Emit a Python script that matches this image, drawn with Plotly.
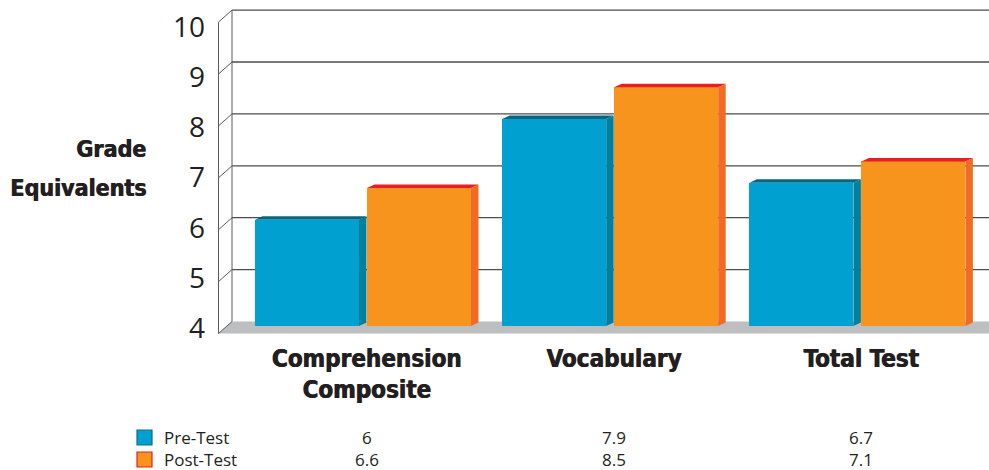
import plotly.graph_objects as go

# ---- data -------------------------------------------------------------
categories = ["Comprehension<br>Composite", "Vocabulary", "Total Test"]
pre_test = [6.0, 7.9, 6.7]
post_test = [6.6, 8.5, 7.1]
value_ticks = [4, 5, 6, 7, 8, 9, 10]
series_names = ["Pre-Test", "Post-Test"]
title_lines = ["Grade", "Equivalents"]

# ---- styling ----------------------------------------------------------
PRE_FRONT, PRE_SIDE, PRE_TOP, PRE_EDGE = "#00A0D1", "#00809F", "#006882", "#0B6F8B"
POST_FRONT, POST_SIDE, POST_TOP, POST_EDGE = "#F7941E", "#F26B24", "#EC1C24", "#EC1C24"
FLOOR = "#BCBEC0"
WALL_LINE = "#4D4D4D"
TEXT = "#231F20"
HEAVY = "DejaVu Sans Condensed, Liberation Sans Narrow, DejaVu Sans, sans-serif"
HEAVY_SHADOW = "0.8px 0 0 #231F20"
BODY = "Open Sans, Noto Sans, sans-serif"

W, H = 989, 470
M_L, M_R, M_T, M_B = 212, 0, 5, 0
PLOT_W = W - M_L - M_R
PLOT_H = H - M_T - M_B
AXIS_PX = 337          # page row where the category axis sits

def paper_y(px):
    return (M_T + PLOT_H - px) / PLOT_H

def paper_x(px):
    return (px - M_L) / PLOT_W

# horizontal scale: one category per 247.2 px, first group centred at 366.5 px
PX_PER_CAT = 247.2
CAT0_PX = 366.5
def ux(px):
    return (px - CAT0_PX) / PX_PER_CAT
x_range = [ux(M_L), ux(W - M_R)]

# vertical scales (px measured from top of page)
def axis_range(base_px, px_per_unit, base_val=4):
    bottom_px = M_T + PLOT_H
    lo = base_val - (bottom_px - base_px) / px_per_unit
    hi = base_val + (base_px - M_T) / px_per_unit
    return [lo, hi]

WALL_PPU, WALL_BASE = 51.9, 321.5     # back wall plane
BAR_PPU, BAR_BASE = 53.07, 326.0      # bar front plane
LBL_PPU, LBL_BASE = 50.3, 328.5       # tick-label plane

# depth of the side wall (front edge vs back edge)
WALL_BACK_X = ux(232)
WALL_FRONT_X = ux(218.5)
WALL_DY = 12 / WALL_PPU
# bar extrusion depth
BAR_DX = 7.5 / PX_PER_CAT
BAR_DY = 3.5 / BAR_PPU
BAR_W = 104 / PX_PER_CAT
PRE_OFF = (255 - CAT0_PX) / PX_PER_CAT
POST_OFF = (367 - CAT0_PX) / PX_PER_CAT
BASE = value_ticks[0]
TOP = value_ticks[-1]
X_FAR = x_range[1] + 0.2

fig = go.Figure()

# floor
fig.add_trace(go.Scatter(
    x=[WALL_BACK_X, X_FAR, X_FAR, WALL_FRONT_X, WALL_BACK_X],
    y=[BASE, BASE, BASE - WALL_DY, BASE - WALL_DY, BASE],
    fill="toself", fillcolor=FLOOR, mode="none",
    xaxis="x", yaxis="y", showlegend=False, hoverinfo="skip"))

# back-wall grid lines
gx, gy = [], []
for v in value_ticks[1:]:
    gx += [WALL_BACK_X, X_FAR, None]
    gy += [v, v, None]
fig.add_trace(go.Scatter(x=gx, y=gy, mode="lines",
                         line=dict(color=WALL_LINE, width=1.3),
                         xaxis="x", yaxis="y", showlegend=False, hoverinfo="skip"))

# left side wall: two verticals plus a diagonal per level
lx = [WALL_BACK_X, WALL_BACK_X, None, WALL_FRONT_X, WALL_FRONT_X, None]
ly = [BASE, TOP, None, BASE - WALL_DY, TOP - WALL_DY, None]
for v in value_ticks:
    lx += [WALL_FRONT_X, WALL_BACK_X, None]
    ly += [v - WALL_DY, v, None]
fig.add_trace(go.Scatter(x=lx, y=ly, mode="lines",
                         line=dict(color="#5A5A5A", width=1),
                         xaxis="x", yaxis="y", showlegend=False, hoverinfo="skip"))

# bars: front faces plus extruded side and top faces
idx = list(range(len(categories)))
for name, vals, off, front, side, top in [
        (series_names[0], pre_test, PRE_OFF, PRE_FRONT, PRE_SIDE, PRE_TOP),
        (series_names[1], post_test, POST_OFF, POST_FRONT, POST_SIDE, POST_TOP)]:
    fig.add_trace(go.Bar(
        x=idx, y=[v - BASE for v in vals], base=BASE, name=name,
        width=BAR_W, offset=off, marker=dict(color=front, line=dict(width=0)),
        xaxis="x", yaxis="y2", showlegend=False, hoverinfo="skip"))
    for i, v in zip(idx, vals):
        xl = i + off
        xr = xl + BAR_W
        fig.add_trace(go.Scatter(
            x=[xr, xr + BAR_DX, xr + BAR_DX, xr, xr],
            y=[BASE, BASE + BAR_DY, v + BAR_DY, v, BASE],
            fill="toself", fillcolor=side, mode="none",
            xaxis="x", yaxis="y2", showlegend=False, hoverinfo="skip"))
        fig.add_trace(go.Scatter(
            x=[xl, xl + BAR_DX, xr + BAR_DX, xr, xl],
            y=[v, v + BAR_DY, v + BAR_DY, v, v],
            fill="toself", fillcolor=top, mode="none",
            xaxis="x", yaxis="y2", showlegend=False, hoverinfo="skip"))

# empty trace so the value-label axis is drawn
fig.add_trace(go.Scatter(x=[None], y=[None], xaxis="x", yaxis="y3",
                         showlegend=False, hoverinfo="skip"))

# data table: key swatch, series name and one value per category
ROW_PX = [437.5, 459.5]
for row, name, vals, fc, ec in [
        (ROW_PX[0], series_names[0], pre_test, PRE_FRONT, PRE_EDGE),
        (ROW_PX[1], series_names[1], post_test, POST_FRONT, POST_EDGE)]:
    fig.add_shape(type="rect", xref="paper", yref="paper",
                  x0=paper_x(137), x1=paper_x(152),
                  y0=paper_y(row - 7.5), y1=paper_y(row + 7.5),
                  fillcolor=fc, line=dict(color=ec, width=1.2))
    fig.add_annotation(
        x=paper_x(162), xref="paper", y=paper_y(row), yref="paper",
        text=name, showarrow=False, xanchor="left", yanchor="middle",
        font=dict(family=BODY, size=17, color=TEXT))
    for i, v in zip(idx, vals):
        fig.add_annotation(
            x=i, xref="x", y=paper_y(row), yref="paper",
            text=f"{v:g}", showarrow=False, xanchor="center", yanchor="middle",
            font=dict(family=BODY, size=17, color=TEXT))

# value-axis title, two widely spaced right-aligned lines
for line, row in zip(title_lines, [149, 188]):
    fig.add_annotation(
        x=paper_x(148), xref="paper", y=paper_y(row), yref="paper",
        text=line, showarrow=False, xanchor="right", yanchor="middle",
        font=dict(family=HEAVY, size=23, color=TEXT, weight="bold",
                  shadow=HEAVY_SHADOW))

fig.update_layout(
    width=W, height=H,
    margin=dict(l=M_L, r=M_R, t=M_T, b=M_B, pad=0),
    paper_bgcolor="white", plot_bgcolor="rgba(0,0,0,0)",
    barmode="overlay", bargap=0, showlegend=False,
    xaxis=dict(range=x_range, showgrid=False, zeroline=False, showline=False,
               tickmode="array", tickvals=idx, ticktext=categories, ticks="",
               ticklabelstandoff=5,
               tickfont=dict(family=HEAVY, size=24, color=TEXT, weight="bold",
                             shadow=HEAVY_SHADOW),
               anchor="free", position=paper_y(AXIS_PX), automargin=False,
               fixedrange=True),
    yaxis=dict(range=axis_range(WALL_BASE, WALL_PPU), showgrid=False, zeroline=False,
               showline=False, showticklabels=False, fixedrange=True),
    yaxis2=dict(range=axis_range(BAR_BASE, BAR_PPU), overlaying="y", showgrid=False,
                zeroline=False, showline=False, showticklabels=False, fixedrange=True),
    yaxis3=dict(range=axis_range(LBL_BASE, LBL_PPU), overlaying="y", side="left",
                anchor="x", showgrid=False, zeroline=False, showline=False,
                tickmode="array", tickvals=value_ticks, ticks="", automargin=False,
                ticklabelstandoff=6,
                tickfont=dict(family=BODY, size=28, color=TEXT), fixedrange=True),
)

fig.write_html("out.html")
